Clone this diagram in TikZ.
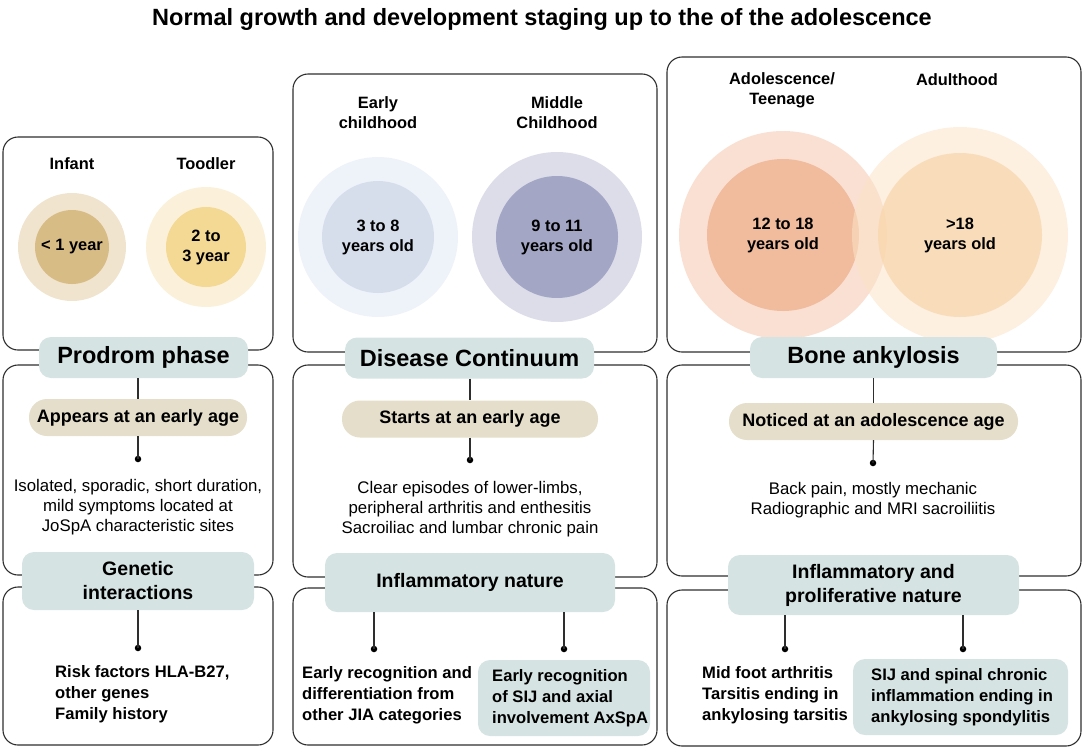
\documentclass[tikz,border=0pt]{standalone}
\usepackage{fontspec}
\setmainfont{Liberation Sans}
\definecolor{pillblue}{HTML}{D5E3E3}
\definecolor{tanfill}{HTML}{E4DECA}
\definecolor{boxline}{HTML}{2E2E2E}
\definecolor{infO}{HTML}{F0E4CF}
\definecolor{infI}{HTML}{D8BC86}
\definecolor{todO}{HTML}{FBF1DB}
\definecolor{todI}{HTML}{F4D994}
\definecolor{earO}{HTML}{EEF2F9}
\definecolor{earI}{HTML}{D6DEEC}
\definecolor{midO}{HTML}{DCDDE9}
\definecolor{midI}{HTML}{A3A7C5}
\definecolor{adoO}{HTML}{F9E0D3}
\definecolor{adoI}{HTML}{F0BC9D}
\definecolor{aduO}{HTML}{FBE3C8}
\definecolor{aduI}{HTML}{F8D7AC}
\begin{document}
\begin{tikzpicture}[x=1pt,y=-1pt,
  panel/.style={draw=boxline, line width=1.1pt, rounded corners=15pt, inner sep=0pt},
  mainpill/.style={fill=pillblue, rounded corners=12pt, inner sep=0pt, minimum height=41pt,
     font=\bfseries\fontsize{23.5}{26}\selectfont},
  subpill/.style={fill=pillblue, rounded corners=12pt, inner sep=0pt, align=center,
     font=\bfseries\fontsize{19.5}{24}\selectfont},
  tanpill/.style={fill=tanfill, rounded corners=18pt, inner sep=0pt, minimum height=37pt,
     font=\bfseries\fontsize{18}{20}\selectfont},
  body/.style={align=center, inner sep=0pt, font=\fontsize{16.8}{20.3}\selectfont},
  boldtxt/.style={align=left, inner sep=0pt, font=\bfseries\fontsize{16.6}{20.8}\selectfont},
  agelbl/.style={align=center, inner sep=0pt, font=\bfseries\fontsize{16.4}{20}\selectfont},
  ring/.style={circle, inner sep=0pt},
  dotn/.style={circle, fill=black, inner sep=0pt, minimum size=6.5pt},
  conn/.style={draw=boxline, line width=1.1pt},
  infobox/.style={fill=pillblue, rounded corners=12pt, inner sep=0pt, minimum width=#1, minimum height=76pt}
]
\useasboundingbox (0,0) rectangle (1084,750);

% title
\node[font=\bfseries\fontsize{23.5}{26}\selectfont] (title) at (542,19)
  {Normal growth and development staging up to the of the adolescence};

% panels
\node[panel, minimum width=270pt, minimum height=213pt] (top1) at (138,243.5) {};
\node[panel, minimum width=270pt, minimum height=210pt] (mid1) at (138,470) {};
\node[panel, minimum width=270pt, minimum height=158pt] (low1) at (138,666) {};
\node[panel, minimum width=364pt, minimum height=278pt] (top2) at (475,213) {};
\node[panel, minimum width=364pt, minimum height=212pt] (mid2) at (475,471) {};
\node[panel, minimum width=364pt, minimum height=157pt] (low2) at (475,666.5) {};
\node[panel, minimum width=414pt, minimum height=295pt] (top3) at (874,204.5) {};
\node[panel, minimum width=414pt, minimum height=211pt] (mid3) at (874,470.5) {};
\node[panel, minimum width=414pt, minimum height=156pt] (low3) at (874,668) {};

% circles column 1
\node[ring, fill=infO, minimum size=108pt] (infout) at (72,247) {};
\node[ring, fill=infI, minimum size=74pt, agelbl] (infin) at (72,247) {< 1 year};
\node[ring, fill=todO, minimum size=120pt] (todout) at (206,247) {};
\node[ring, fill=todI, minimum size=80pt, agelbl] (todin) at (206,247) {2 to\\3 year};
\node[agelbl] (lblinf) at (72,164) {Infant};
\node[agelbl] (lbltod) at (206,164) {Toodler};

% circles column 2
\node[ring, fill=earO, minimum size=160pt] (earout) at (378,237) {};
\node[ring, fill=earI, minimum size=112pt, agelbl] (earin) at (378,237) {3 to 8\\years old};
\node[ring, fill=midO, minimum size=170pt] (midout) at (557,237) {};
\node[ring, fill=midI, minimum size=122pt, agelbl] (midin) at (557,237) {9 to 11\\years old};
\node[agelbl] (lblear) at (378,113) {Early\\childhood};
\node[agelbl] (lblmid) at (557,113) {Middle\\Childhood};

% circles column 3
\node[ring, fill=adoO, minimum size=208pt] (adoout) at (783,235) {};
\node[ring, fill=adoI, minimum size=152pt] (adoin) at (783,235) {};
\node[ring, fill=aduO, fill opacity=0.55, minimum size=216pt] (aduout) at (960,235) {};
\node[ring, fill=aduI, fill opacity=0.75, minimum size=164pt] (aduin) at (960,235) {};
\node[agelbl] (adotxt) at (783,235) {12 to 18\\years old};
\node[agelbl] (adutxt) at (960,235) {>18\\years old};
\node[agelbl] (lblado) at (782,90) {Adolescence/\\Teenage};
\node[agelbl] (lbladu) at (957,80) {Adulthood};

% main pills
\node[mainpill, minimum width=209pt] (p1) at (143.5,357.5) {Prodrom phase};
\node[mainpill, minimum width=249pt] (p2) at (469.5,358) {Disease Continuum};
\node[mainpill, minimum width=247pt] (p3) at (873.5,357.5) {Bone ankylosis};

% tan pills
\node[tanpill, minimum width=218pt] (t1) at (138,417.5) {Appears at an early age};
\node[tanpill, minimum width=256pt] (t2) at (470,419) {Starts at an early age};
\node[tanpill, minimum width=289pt] (t3) at (873.5,421.5) {Noticed at an adolescence age};

% dots
\node[dotn] (d1) at (138,459) {};
\node[dotn] (d2) at (470,460) {};
\node[dotn] (d3) at (873,463) {};

% body text
\node[body] (b1) at (138,507) {Isolated, sporadic, short duration,\\mild symptoms located at\\JoSpA characteristic sites};
\node[body] (b2) at (470,509) {Clear episodes of lower-limbs,\\peripheral arthritis and enthesitis\\Sacroiliac and lumbar chronic pain};
\node[body] (b3) at (873,500) {Back pain, mostly mechanic\\Radiographic and MRI sacroiliitis};

% sub pills
\node[subpill, minimum width=232pt, minimum height=58pt] (s1) at (138,581) {Genetic\\interactions};
\node[subpill, minimum width=290pt, minimum height=59pt] (s2) at (470,582.5) {Inflammatory nature};
\node[subpill, minimum width=291pt, minimum height=60pt] (s3) at (873.5,585) {Inflammatory and\\proliferative nature};

% lower dots
\node[dotn] (e1) at (138,648) {};
\node[dotn] (e2a) at (374,649) {};
\node[dotn] (e2b) at (564,649) {};
\node[dotn] (e3a) at (785,649) {};
\node[dotn] (e3b) at (963,649) {};

% info boxes
\node[infobox=172pt] (ib2) at (564,698) {};
\node[infobox=215pt] (ib3) at (960.5,697) {};

% lower texts
\node[boldtxt, anchor=west] (l1) at (55,694) {Risk factors HLA-B27,\\other genes\\Family history};
\node[boldtxt, anchor=west] (l2a) at (302,695) {Early recognition and\\differentiation from\\other JIA categories};
\node[boldtxt, anchor=west] (l2b) at (492,698) {Early recognition\\of SIJ and axial\\involvement AxSpA};
\node[boldtxt, anchor=west] (l3a) at (702,695) {Mid foot arthritis\\Tarsitis ending in\\ankylosing tarsitis};
\node[boldtxt, anchor=west] (l3b) at (871,697) {SIJ and spinal chronic\\inflammation ending in\\ankylosing spondylitis};

% connectors
\draw[conn] (p1.south -| t1.north) -- (t1.north);
\draw[conn] (t1.south) -- (d1.center);
\draw[conn] (p2.south -| t2.north) -- (t2.north);
\draw[conn] (t2.south) -- (d2.center);
\draw[conn] (p3.south -| t3.north) -- (t3.north);
\draw[conn] (t3.south) -- (d3.center);
\draw[conn] (s1.south) -- (e1.center);
\draw[conn] (s2.south -| e2a) -- (e2a.center);
\draw[conn] (s2.south -| e2b) -- (e2b.center);
\draw[conn] (s3.south -| e3a) -- (e3a.center);
\draw[conn] (s3.south -| e3b) -- (e3b.center);
\end{tikzpicture}
\end{document}
